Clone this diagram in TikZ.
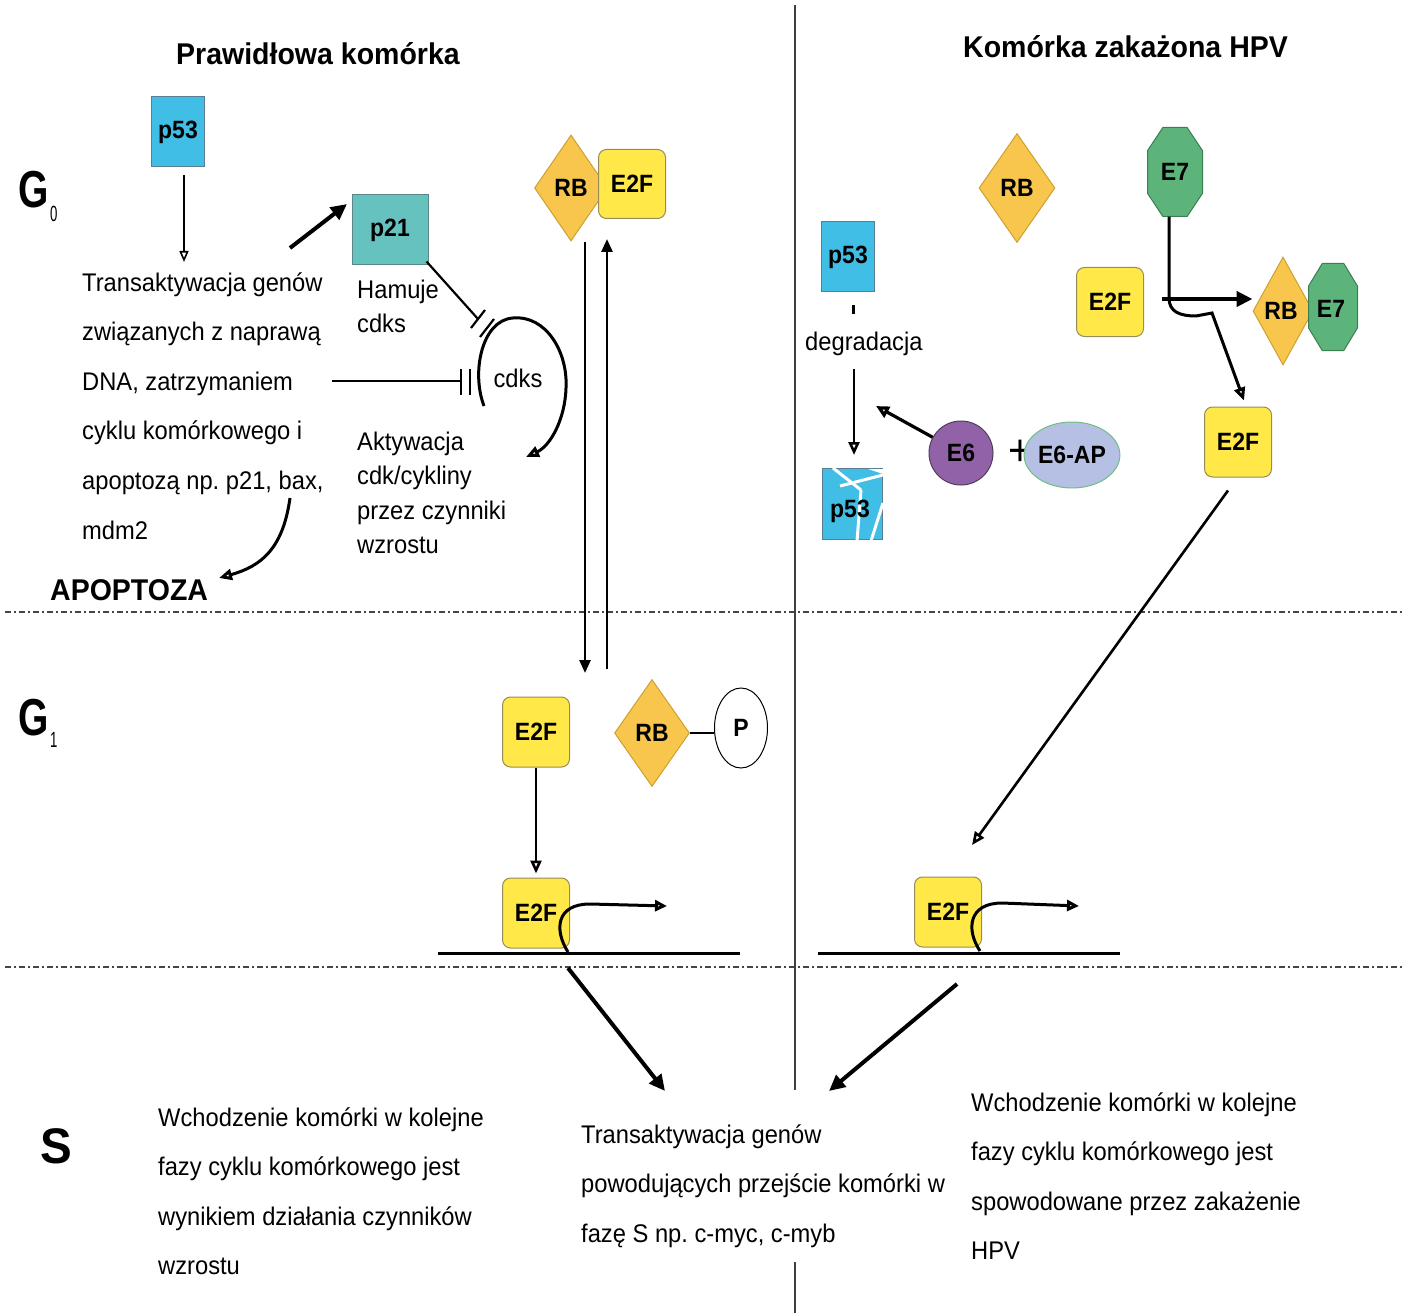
\documentclass[tikz,border=0pt]{standalone}
\usepackage{fontspec}
\setmainfont{Liberation Sans}
\newfontfamily\txtf[FakeStretch=0.93]{Liberation Sans}
\newfontfamily\lblf[FakeStretch=0.92]{Liberation Sans}
\newfontfamily\ttlf[FakeStretch=0.95]{Liberation Sans}
\newfontfamily\gf[FakeStretch=0.75]{Liberation Sans}
\newfontfamily\subf[FakeStretch=0.6]{Liberation Sans}
\usetikzlibrary{shapes.geometric,arrows.meta,calc}
\frenchspacing
\definecolor{cyanp}{RGB}{64,190,230}
\definecolor{cyanE}{RGB}{90,125,145}
\definecolor{tealp}{RGB}{102,194,190}
\definecolor{tealE}{RGB}{90,135,135}
\definecolor{rbO}{RGB}{248,198,76}
\definecolor{rbE}{RGB}{205,160,50}
\definecolor{e2fY}{RGB}{255,232,72}
\definecolor{e2fE}{RGB}{150,140,90}
\definecolor{e7G}{RGB}{92,180,122}
\definecolor{e7E}{RGB}{60,125,82}
\definecolor{e6P}{RGB}{146,98,168}
\definecolor{e6E}{RGB}{80,60,90}
\definecolor{apL}{RGB}{182,192,228}
\definecolor{apE}{RGB}{110,190,130}
\definecolor{divG}{RGB}{70,70,70}
\newcommand\octo[4]{%
  \filldraw[octstyle] ({#1-#3/2+0.28*#3},{#2-#4/2}) -- ({#1+#3/2-0.28*#3},{#2-#4/2})
   -- ({#1+#3/2},{#2-#4/2+0.26*#4}) -- ({#1+#3/2},{#2+#4/2-0.26*#4})
   -- ({#1+#3/2-0.28*#3},{#2+#4/2}) -- ({#1-#3/2+0.28*#3},{#2+#4/2})
   -- ({#1-#3/2},{#2+#4/2-0.26*#4}) -- ({#1-#3/2},{#2-#4/2+0.26*#4}) -- cycle;}
\begin{document}
\begin{tikzpicture}[x=1pt,y=-1pt,
  txt/.style={font=\txtf\fontsize{25.5}{49.6}\selectfont, inner sep=0, align=left, anchor=base west},
  txtb/.style={font=\txtf\fontsize{25.5}{34.5}\selectfont, inner sep=0, align=left, anchor=base west},
  plain/.style={font=\txtf\fontsize{25.5}{25.5}\selectfont, inner sep=0},
  lbl/.style={font=\lblf\bfseries\fontsize{25}{25}\selectfont, inner sep=0},
  ttl/.style={font=\ttlf\bfseries\fontsize{30}{30}\selectfont, inner sep=0, anchor=base west},
  gl/.style={font=\gf\bfseries\fontsize{52}{52}\selectfont, inner sep=0, anchor=base west},
  sl/.style={font=\ttlf\bfseries\fontsize{50}{50}\selectfont, inner sep=0, anchor=base west},
  subl/.style={font=\subf\fontsize{22}{22}\selectfont, inner sep=0, anchor=base west},
  p53box/.style={lbl, rectangle, fill=cyanp, draw=cyanE, line width=1, minimum width=53, minimum height=70},
  p21box/.style={lbl, rectangle, fill=tealp, draw=tealE, line width=1, minimum width=76, minimum height=70},
  e2fbox/.style={lbl, rectangle, rounded corners=8, fill=e2fY, draw=e2fE, line width=1, minimum width=67, minimum height=69},
  rbdia/.style={lbl, diamond, fill=rbO, draw=rbE, line width=1, minimum width=73, minimum height=106},
  octstyle/.style={fill=e7G, draw=e7E, line width=1},
  pell/.style={lbl, ellipse, fill=white, draw=black, line width=1, minimum width=53, minimum height=80},
  e6circ/.style={lbl, circle, fill=e6P, draw=e6E, line width=1, minimum size=64},
  e6apell/.style={lbl, ellipse, fill=apL, draw=apE, line width=1, minimum width=76, minimum height=66},
  divline/.style={divG, line width=1.8, dash pattern=on 6pt off 3pt on 2pt off 3pt},
  vline/.style={black!75, line width=1.2},
  thinarr/.style={line width=1.6, -{Triangle[open,length=11pt,width=9pt]}},
  medarr/.style={line width=2.6, -{Triangle[open,length=13pt,width=11pt]}},
  medarrf/.style={line width=2.6, -{Triangle[length=13pt,width=11pt]}},
  bigarr/.style={line width=4, -{Triangle[length=16pt,width=15pt]}},
  inh/.style={line width=2.2},
  dna/.style={line width=3},
]
\useasboundingbox (0,0) rectangle (1407,1313);
% dividers
\draw[divline] (5,612) -- (1402,612);
\draw[divline] (5,967) -- (1402,967);
\draw[vline] (795,5) -- (795,1090);
\draw[vline] (795,1262) -- (795,1313);
% titles
\node[ttl] (t1) at (176,65) {Prawidłowa komórka};
\node[ttl] (t2) at (963,58) {Komórka zakażona HPV};
% phase labels
\node[gl] (g0) at (18,208) {G};
\node[subl] (g0s) at (50,222) {0};
\node[gl] (g1) at (18,735) {G};
\node[subl] (g1s) at (50,747) {1};
\node[sl] (sph) at (40,1163) {S};
% ---- left G0 ----
\node[p53box] (p53a) at (178,132) {p53};
\node[txt] (trans) at (82,539) {Transaktywacja genów\\związanych z naprawą\\DNA, zatrzymaniem\\cyklu komórkowego i\\apoptozą np. p21, bax,\\mdm2};
\coordinate (transtop) at (184,262);
\draw[thinarr] ([xshift=6pt,yshift=-8pt]p53a.south) -- (transtop);
\node[p21box] (p21) at (390,230) {p21};
\coordinate (p21from) at (290,248);
\coordinate (p21in) at (347,204);
\draw[bigarr] (p21from) -- (p21in);
\node[txtb] (ham) at (357,332.5) {Hamuje\\cdks};
\node[txtb] (akt) at (357,553.5) {Aktywacja\\cdk/cykliny\\przez czynniki\\wzrostu};
\node[plain] (cdks) at (518,378) {cdks};
% p21 inhibition
\coordinate (ib1) at (478,319);
\draw[inh] ([xshift=-2pt,yshift=4pt]p21.south east) -- (ib1);
\draw[inh] (471,328) -- (485,310);
\draw[inh] (480,337) -- (494,319);
% text inhibition
\coordinate (inhs) at (332,381);
\coordinate (inhe) at (461,381);
\draw[inh] (inhs) -- (inhe);
\draw[inh] (461,369) -- (461,395);
\draw[inh] (470,369) -- (470,395);
% cdks loop
\coordinate (lp0) at (484,406);
\coordinate (lp1) at (513,318);
\coordinate (lp2) at (566,388);
\coordinate (lp3) at (526,457);
\draw[line width=3, -{Triangle[open,length=13pt,width=11pt]}] (lp0) .. controls (471,372) and (482,320) .. (lp1) .. controls (546,315) and (568,352) .. (lp2) .. controls (565,420) and (550,446) .. (lp3);
% apoptoza
\node[ttl] (apo) at (50,600) {APOPTOZA};
\coordinate (bax) at (290,498);
\coordinate (apoin) at (219,578);
\draw[line width=3, -{Triangle[open,length=13pt,width=11pt]}] (bax) .. controls (283,548) and (262,566) .. (apoin);
% ---- middle ----
\node[rbdia, minimum width=73, minimum height=106] (rb1) at (571,188) {RB};
\node[e2fbox] (e2f1) at (632,184) {E2F};
\coordinate (d1s) at (585,242);
\coordinate (d1e) at (585,673);
\coordinate (u1s) at (607,669);
\coordinate (u1e) at (607,239);
\draw[medarrf] (d1s) -- (d1e);
\draw[medarrf] (u1s) -- (u1e);
\node[e2fbox, minimum height=70] (e2f2) at (536,732) {E2F};
\node[rbdia, minimum width=75, minimum height=107] (rb2) at (652,733) {RB};
\node[pell] (pp) at (741,728) {P};
\draw[line width=2.6] (rb2.east) -- (pp.west |- rb2.east);
\node[e2fbox, minimum height=70] (e2f3) at (536,913) {E2F};
\draw[medarr] (e2f2.south) -- ([yshift=4pt]e2f3.north);
\coordinate (dnaL1) at (438,953);
\coordinate (dnaR1) at (740,953);
\draw[dna] (dnaL1) -- (dnaR1);
\coordinate (prom1) at (568,952);
\coordinate (tx1) at (667,906);
\draw[line width=3, -{Triangle[open,length=12pt,width=11pt]}] (prom1) .. controls (554,930) and (556,904) .. (590,904) -- (tx1);
\coordinate (b1s) at (568,968);
\coordinate (b1e) at (665,1091);
\draw[bigarr] (b1s) -- (b1e);
% ---- right G1 ----
\node[e2fbox, minimum height=70] (e2f6) at (948,912) {E2F};
\coordinate (dnaL2) at (818,953);
\coordinate (dnaR2) at (1120,953);
\draw[dna] (dnaL2) -- (dnaR2);
\coordinate (prom2) at (980,951);
\coordinate (tx2) at (1079,906);
\draw[line width=3, -{Triangle[open,length=12pt,width=11pt]}] (prom2) .. controls (966,930) and (968,903) .. (1002,903) -- (tx2);
\coordinate (b2s) at (957,984);
\coordinate (b2e) at (829,1091);
\draw[bigarr] (b2s) -- (b2e);
% ---- right G0 ----
\node[p53box] (p53r) at (848,257) {p53};
\draw[line width=3] ([xshift=5pt,yshift=-13pt]p53r.south) -- ([xshift=5pt,yshift=-22pt]p53r.south);
\node[txt] (degr) at (805,350) {degradacja};
\node[rectangle, fill=cyanp, draw=cyanE, line width=1, minimum width=60, minimum height=71, inner sep=0] (p53d) at (852,504) {};
\draw[white, line width=3] (833,468) -- (861,490);
\draw[white, line width=3] (840,486) -- (883,475);
\draw[white, line width=3] (861,490) -- (857,541);
\draw[white, line width=3] (883,503) -- (871,541);
\fill[white] (868,469) -- (883,469) -- (883,474) -- cycle;
\node[lbl] (p53dl) at (850,511) {p53};
\coordinate (dg1) at (854,369);
\draw[medarr] (dg1) -- ([xshift=2pt,yshift=13pt]p53d.north);
\node[e6circ] (e6) at (961,453) {E6};
\coordinate (e6to) at (876,406);
\draw[line width=3.2, -{Triangle[open,length=13pt,width=12pt]}] (e6.151) -- (e6to);
\node[font=\txtf\fontsize{44}{44}\selectfont, inner sep=0] (plus) at (1020,453) {+};
\node[e6apell] (e6ap) at (1072,455) {E6-AP};
\node[rbdia, minimum width=76, minimum height=109] (rb3) at (1017,188) {RB};
\octo{1175}{172}{55}{89}
\node[lbl, minimum width=55, minimum height=89] (e7a) at (1175,172) {E7};
\node[e2fbox] (e2f4) at (1110,302) {E2F};
\node[rbdia, minimum width=60, minimum height=108] (rb4) at (1283,311) {\hspace*{-4pt}RB};
\octo{1333}{307}{49}{87}
\node[lbl, minimum width=49, minimum height=87] (e7b) at (1331,309) {E7};
\node[e2fbox, minimum height=70] (e2f5) at (1238,442) {E2F};
\coordinate (e7bend) at (1169,298);
\coordinate (hstart) at (1162,299);
\draw[line width=3, -{Triangle[open,length=13pt,width=11pt]}] ([xshift=-6pt]e7a.south) -- (e7bend) .. controls (1169,312) and (1180,316) .. (1196,316) -- (1212,313) -- ([xshift=6pt,yshift=6pt]e2f5.north);
\draw[bigarr] (hstart) -- (rb4.west |- hstart);
\coordinate (lae) at (972,845);
\draw[medarr] ([xshift=-10pt,yshift=-13pt]e2f5.south) -- (lae);
% ---- bottom texts ----
\node[txt] (sl1) at (158,1274.8) {Wchodzenie komórki w kolejne\\fazy cyklu komórkowego jest\\wynikiem działania czynników\\wzrostu};
\node[txt] (sm1) at (581,1242.2) {Transaktywacja genów\\powodujących przejście komórki w\\fazę S np. c-myc, c-myb};
\node[txt] (sr1) at (971,1259.8) {Wchodzenie komórki w kolejne\\fazy cyklu komórkowego jest\\spowodowane przez zakażenie\\HPV};
\end{tikzpicture}
\end{document}
